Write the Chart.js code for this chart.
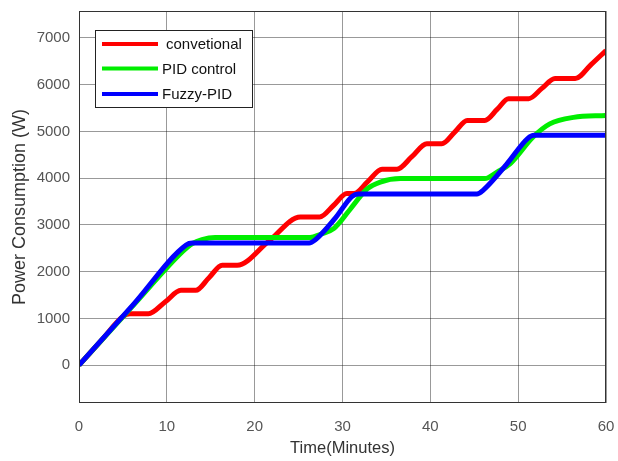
<!DOCTYPE html>
<html>
<head>
<meta charset="utf-8">
<script src="https://cdn.jsdelivr.net/npm/chart.js@4.4.1/dist/chart.umd.min.js"></script>
<style>
  html, body { margin: 0; padding: 0; background: #fff; }
  #wrap { width: 618px; height: 461px; position: relative; }
</style>
</head>
<body>
<div id="wrap"><canvas id="powerChart"></canvas></div>
<script>
// values (time in minutes, power in W)
const convTime  = [0, 2.6, 5.0, 5.8, 7.9, 9.8, 11.6, 13.3, 14.8, 16.3, 18.0, 21.6, 25.2, 27.4, 29.0, 30.5, 31.3, 32.9, 34.5, 36.2, 37.9, 39.6, 41.3, 42.8, 44.2, 46.2, 47.6, 48.9, 51.2, 52.7, 54.2, 56.5, 58.3, 60];
const convPower = [0, 540, 1040, 1100, 1100, 1350, 1600, 1600, 1870, 2137, 2137, 2650, 3170, 3170, 3420, 3670, 3670, 3930, 4190, 4190, 4460, 4737, 4737, 4990, 5235, 5235, 5470, 5700, 5700, 5920, 6130, 6130, 6430, 6730];

const pidTime  = [0, 6.0, 11.8, 12.9, 14.0, 15.5, 26.3, 27.5, 29.0, 30.9, 32.8, 34.3, 36.6, 46.2, 47.6, 49.1, 51.7, 53.6, 56.3, 60];
const pidPower = [0, 1240, 2430, 2600, 2686, 2730, 2730, 2800, 2920, 3340, 3770, 3917, 3990, 3990, 4130, 4310, 4880, 5160, 5300, 5340];

const fuzzyTime  = [0, 6.2, 12.2, 12.9, 26.2, 26.9, 29.2, 31.1, 31.8, 45.3, 46.0, 48.7, 51.1, 51.8, 60];
const fuzzyPower = [0, 1300, 2570, 2613, 2613, 2680, 3150, 3610, 3660, 3660, 3740, 4300, 4850, 4915, 4915];

const seriesNames = ['convetional', 'PID control', 'Fuzzy-PID'];
const seriesColors = ['#ff0000', '#00ee00', '#0000ff'];

const xTicks = [0, 10, 20, 30, 40, 50, 60];
const yTicks = [0, 1000, 2000, 3000, 4000, 5000, 6000, 7000];

function zip(xs, ys) {
    return xs.map((x, i) => ({ x: x, y: ys[i] }));
}

const fontFamily = '"Liberation Sans", Arial, sans-serif';

// legend box drawn inside the plot, like the MATLAB one
const insideLegend = {
    id: 'insideLegend',
    afterDraw(chart) {
        const ctx = chart.ctx;
        const x0 = 95, y0 = 30, w = 157, h = 77;
        ctx.save();
        ctx.fillStyle = '#fff';
        ctx.fillRect(x0, y0, w, h);
        ctx.strokeStyle = '#222';
        ctx.lineWidth = 1;
        ctx.strokeRect(x0 + 0.5, y0 + 0.5, w, h);
        const rows = [44, 68.5, 94];
        ctx.font = '15px ' + fontFamily;
        ctx.textBaseline = 'middle';
        ctx.fillStyle = '#111';
        chart.data.datasets.forEach((ds, i) => {
            ctx.strokeStyle = ds.borderColor;
            ctx.lineWidth = 4;
            ctx.beginPath();
            ctx.moveTo(102, rows[i]);
            ctx.lineTo(158, rows[i]);
            ctx.stroke();
            ctx.fillText(ds.label, i === 0 ? 166 : 162, rows[i] + 1);
        });
        ctx.restore();
    }
};

// full box around the plot area
const frameBox = {
    id: 'frameBox',
    afterDatasetsDraw(chart) {
        const a = chart.chartArea;
        const ctx = chart.ctx;
        ctx.save();
        ctx.strokeStyle = '#333';
        ctx.lineWidth = 1;
        ctx.strokeRect(Math.round(a.left) + 0.5, Math.round(a.top) + 0.5, Math.round(a.right - a.left) - 1, Math.round(a.bottom - a.top) - 1);
        ctx.restore();
    }
};

const tickFont = { family: fontFamily, size: 15 };

new Chart(document.getElementById('powerChart'), {
    type: 'line',
    data: {
        datasets: [
            { label: seriesNames[0], data: zip(convTime, convPower), borderColor: seriesColors[0], order: 3 },
            { label: seriesNames[1], data: zip(pidTime, pidPower), borderColor: seriesColors[1], order: 2 },
            { label: seriesNames[2], data: zip(fuzzyTime, fuzzyPower), borderColor: seriesColors[2], order: 1 }
        ].map(d => Object.assign(d, {
            borderWidth: 5,
            pointRadius: 0,
            fill: false,
            cubicInterpolationMode: 'monotone'
        }))
    },
    options: {
        responsive: true,
        maintainAspectRatio: false,
        animation: false,
        layout: { padding: { top: 11, right: 12, left: 0, bottom: 0 } },
        plugins: {
            legend: { display: false },
            tooltip: { enabled: false }
        },
        scales: {
            x: {
                type: 'linear',
                min: 0,
                max: 60,
                afterBuildTicks: s => { s.ticks = xTicks.map(v => ({ value: v })); },
                afterFit: s => { s.height = 58; s.paddingLeft = 0; s.paddingRight = 0; },
                grid: { color: 'rgba(0,0,0,0.4)', drawTicks: false },
                border: { display: false },
                ticks: { color: '#555', font: tickFont, padding: 15, maxRotation: 0, callback: v => String(v) },
                title: {
                    display: true,
                    text: 'Time(Minutes)',
                    color: '#333',
                    font: { family: fontFamily, size: 16.5 },
                    padding: { top: 0, bottom: 3 }
                }
            },
            y: {
                min: -810,
                max: 7575,
                afterBuildTicks: s => { s.ticks = yTicks.map(v => ({ value: v })); },
                afterFit: s => { s.width = 79; s.paddingTop = 0; s.paddingBottom = 0; },
                grid: { color: 'rgba(0,0,0,0.4)', drawTicks: false },
                border: { display: false },
                ticks: { color: '#555', font: tickFont, padding: 9, callback: v => String(v) },
                title: {
                    display: true,
                    text: 'Power Consumption (W)',
                    color: '#333',
                    font: { family: fontFamily, size: 18 },
                    padding: { top: 9, bottom: 0 }
                }
            }
        }
    },
    plugins: [frameBox, insideLegend]
});
</script>
</body>
</html>
